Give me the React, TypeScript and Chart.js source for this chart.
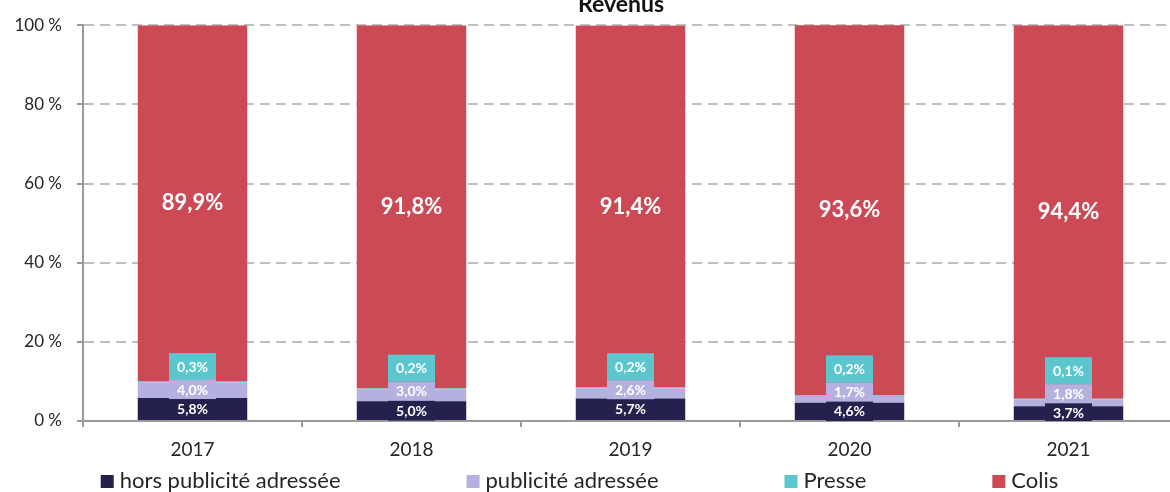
import React, { useEffect, useRef } from "react";
import { Chart, registerables } from "chart.js";

Chart.register(...registerables);

const categories = ["2017", "2018", "2019", "2020", "2021"];
const horsPub = [5.8, 5.0, 5.7, 4.6, 3.7];
const pub = [4.0, 3.0, 2.6, 1.7, 1.8];
const presse = [0.3, 0.2, 0.2, 0.2, 0.1];
const colis = [89.9, 91.8, 91.4, 93.6, 94.4];
const seriesNames = ["hors publicité adressée", "publicité adressée", "Presse", "Colis"];
const colors = ["#24214f", "#b4b1e0", "#5cc6cf", "#cc4a56"];
const titleText = "Revenus";
const yMax = 100;
const yStep = 20;

const FONT = "Lato, 'Noto Sans', sans-serif";
const TEXT = "#262626";

const fmt = (v: number) => v.toFixed(1).replace(".", ",") + "%";

const segLabels = {
  id: "segLabels",
  afterDatasetsDraw(chart: any) {
    const ctx = chart.ctx;
    const a = chart.chartArea;
    ctx.save();
    ctx.beginPath();
    ctx.rect(a.left, a.top, a.right - a.left, a.bottom - a.top);
    ctx.clip();
    ctx.textAlign = "center";
    ctx.textBaseline = "middle";
    const n = chart.data.labels.length;
    const boxH = [20, 19, 27];
    for (let i = 0; i < n; i++) {
      let prevTop = Infinity;
      for (let d = 0; d < 3; d++) {
        const el = chart.getDatasetMeta(d).data[i];
        const v = chart.data.datasets[d].data[i] as number;
        const center = (el.y + el.base) / 2;
        const h = boxH[d];
        const cy = Math.min(center, prevTop - h / 2);
        ctx.fillStyle = colors[d];
        ctx.fillRect(el.x - 23.5, cy - h / 2, 47, h);
        ctx.fillStyle = "#ffffff";
        ctx.font = `bold 14px ${FONT}`;
        ctx.fillText(fmt(v), el.x, cy + 0.5);
        prevTop = cy - h / 2;
      }
      const el = chart.getDatasetMeta(3).data[i];
      const v = chart.data.datasets[3].data[i] as number;
      ctx.fillStyle = "#ffffff";
      ctx.font = `bold 22px ${FONT}`;
      ctx.fillText(fmt(v), el.x, (el.y + el.base) / 2);
    }
    ctx.restore();
  },
};

const titleAndLegend = {
  id: "titleAndLegend",
  afterDraw(chart: any) {
    const ctx = chart.ctx;
    ctx.save();
    ctx.font = `bold 23px ${FONT}`;
    ctx.fillStyle = "#111111";
    ctx.textAlign = "center";
    ctx.textBaseline = "alphabetic";
    ctx.fillText(titleText, 621, 12);
    ctx.font = `22px ${FONT}`;
    ctx.textAlign = "left";
    const gap = 126;
    const widths = seriesNames.map((s) => 19 + ctx.measureText(s).width);
    const total = widths.reduce((p, c) => p + c, 0) + gap * (seriesNames.length - 1);
    let x = 579.5 - total / 2;
    const baseline = 488;
    seriesNames.forEach((s, k) => {
      ctx.fillStyle = colors[k];
      ctx.fillRect(x, baseline - 13, 13, 13);
      ctx.fillStyle = TEXT;
      ctx.fillText(s, x + 19, baseline);
      x += widths[k] + gap;
    });
    ctx.restore();
  },
};

export default function App() {
  const ref = useRef<HTMLCanvasElement>(null);
  useEffect(() => {
    const seriesData = [horsPub, pub, presse, colis];
    const chart = new Chart(ref.current as HTMLCanvasElement, {
      type: "bar",
      data: {
        labels: categories,
        datasets: seriesData.map((d, k) => ({
          label: seriesNames[k],
          data: d,
          backgroundColor: colors[k],
          borderWidth: 0,
          barPercentage: 0.5,
          categoryPercentage: 1.0,
        })),
      },
      options: {
        responsive: false,
        devicePixelRatio: 1,
        animation: false,
        layout: { padding: { top: 22, right: 12, bottom: 21, left: 0 } },
        plugins: {
          legend: { display: false },
          title: { display: false },
          tooltip: { enabled: false },
        },
        scales: {
          x: {
            stacked: true,
            grid: {
              offset: true,
              drawOnChartArea: false,
              drawTicks: true,
              tickLength: 6,
              color: "#9a9a9a",
              lineWidth: 2,
            },
            border: { color: "#9a9a9a", width: 2 },
            ticks: {
              font: { family: FONT, size: 19 },
              color: TEXT,
              padding: 11,
            },
            afterFit: (s: any) => {
              s.height = 50;
            },
          },
          y: {
            stacked: true,
            min: 0,
            max: yMax,
            grid: {
              color: (c: any) => (c.tick && c.tick.value === 0 ? "rgba(0,0,0,0)" : "#c0c0c0"),
              lineWidth: 2,
              tickColor: "#9a9a9a",
              tickLength: 6,
              tickWidth: 2,
              tickBorderDash: [],
            },
            border: { color: "#9a9a9a", width: 2, dash: [10, 6] },
            ticks: {
              stepSize: yStep,
              font: { family: FONT, size: 17 },
              color: TEXT,
              padding: 15,
              callback: (v: any) => `${v} %`,
            },
            afterFit: (s: any) => {
              s.width = 83;
            },
          },
        },
      },
      plugins: [segLabels, titleAndLegend],
    });
    return () => chart.destroy();
  }, []);
  return (
    <div
      style={{
        position: "fixed",
        left: 0,
        top: 0,
        width: 1170,
        height: 492,
        overflow: "hidden",
        background: "#ffffff",
      }}
    >
      <canvas ref={ref} width={1190} height={492} style={{ display: "block", width: 1190, height: 492 }} />
    </div>
  );
}
